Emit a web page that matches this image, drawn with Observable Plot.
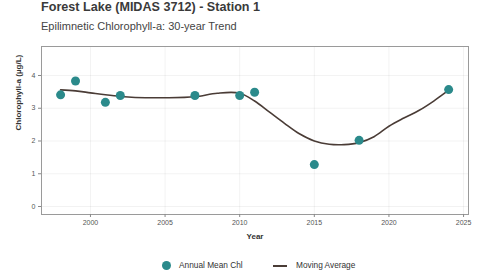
<!DOCTYPE html>
<html>
<head>
<meta charset="utf-8">
<script src="https://cdn.jsdelivr.net/npm/d3@7"></script>
<script src="https://cdn.jsdelivr.net/npm/@observablehq/plot@0.6"></script>
<style>
  body { margin: 0; background: #fff; font-family: "Liberation Sans", Arial, sans-serif; }
  #wrap { position: relative; width: 482px; height: 276px; overflow: hidden; }
  .title { position: absolute; left: 41px; top: 0px; font-size: 12.6px; font-weight: bold; color: #3a3a3a; white-space: nowrap; }
  .subtitle { position: absolute; left: 41px; top: 20px; font-size: 11px; color: #444; white-space: nowrap; }
  #chart { position: absolute; left: 0; top: 40px; }
  .legend { position: absolute; top: 259px; left: 0; width: 482px; height: 14px; font-size: 8.3px; color: #333; white-space: nowrap; }
  .legend .dot { position: absolute; left: 162px; top: 2px; width: 9px; height: 9px; border-radius: 50%; background: #2b8a8b; }
  .legend .t1 { position: absolute; left: 179px; top: 1px; }
  .legend .ln { position: absolute; left: 273px; top: 6px; width: 14px; height: 2px; background: #4a3c36; }
  .legend .t2 { position: absolute; left: 296px; top: 1px; }
</style>
</head>
<body>
<div id="wrap">
  <div class="title">Forest Lake (MIDAS 3712) - Station 1</div>
  <div class="subtitle">Epilimnetic Chlorophyll-a: 30-year Trend</div>
  <div id="chart"></div>
  <div class="legend">
    <span class="dot"></span><span class="t1">Annual Mean Chl</span>
    <span class="ln"></span><span class="t2">Moving Average</span>
  </div>
</div>
<script>
const years = [1998, 1999, 2001, 2002, 2007, 2010, 2011, 2015, 2018, 2024];
const chl = [3.41, 3.83, 3.18, 3.39, 3.39, 3.39, 3.49, 1.28, 2.02, 3.57];

const trendYears = [1998, 1999, 2000, 2001, 2002, 2003, 2005, 2007, 2008.5, 2010, 2011, 2012, 2013, 2014, 2015, 2016, 2017, 2018, 2019, 2020, 2021, 2022, 2023, 2024];
const trendVals = [3.56, 3.53, 3.47, 3.41, 3.36, 3.33, 3.32, 3.35, 3.46, 3.46, 3.22, 2.88, 2.54, 2.22, 2.00, 1.90, 1.89, 1.95, 2.13, 2.45, 2.70, 2.93, 3.22, 3.55];

const xTicks = [2000, 2005, 2010, 2015, 2020, 2025];
const yTicks = [0, 1, 2, 3, 4];

const pts = years.map((y, i) => ({year: y, chl: chl[i]}));
const trend = trendYears.map((y, i) => ({year: y, v: trendVals[i]}));

const plot = Plot.plot({
  width: 482,
  height: 210,
  marginTop: 6,
  marginBottom: 36,
  marginLeft: 41,
  marginRight: 14,
  style: {fontFamily: "Liberation Sans, Arial, sans-serif", fontSize: "7px", color: "#555", background: "#fff"},
  x: {domain: [1996.72, 2025.33], ticks: xTicks, tickFormat: d => String(d), label: null},
  y: {domain: [-0.244, 4.885], ticks: yTicks, label: null},
  marks: [
    Plot.gridY(yTicks, {stroke: "#000", strokeOpacity: 0.05}),
    Plot.gridX(xTicks, {stroke: "#000", strokeOpacity: 0.05}),
    Plot.frame({stroke: "#9a9a9a", strokeWidth: 1}),
    Plot.axisX({ticks: xTicks, tickFormat: d => String(d), tickSize: 3, tickPadding: 3, stroke: "#888", fill: "#555", label: null}),
    Plot.axisY({ticks: yTicks, tickFormat: d => String(d), tickSize: 3, tickPadding: 3, stroke: "#888", fill: "#555", label: null}),
    Plot.text(["Year"], {frameAnchor: "bottom", dy: 24, fontSize: 8, fontWeight: "bold", fill: "#333"}),
    Plot.text(["Chlorophyll-a (µg/L)"], {frameAnchor: "left", dx: -23, rotate: -90, fontSize: 8, fontWeight: "bold", fill: "#333"}),
    Plot.line(trend, {x: "year", y: "v", stroke: "#4a3c36", strokeWidth: 1.6, curve: "catmull-rom"}),
    Plot.dot(pts, {x: "year", y: "chl", r: 4.5, fill: "#2b8a8b", stroke: "none"})
  ]
});
document.getElementById("chart").appendChild(plot);
</script>
</body>
</html>
